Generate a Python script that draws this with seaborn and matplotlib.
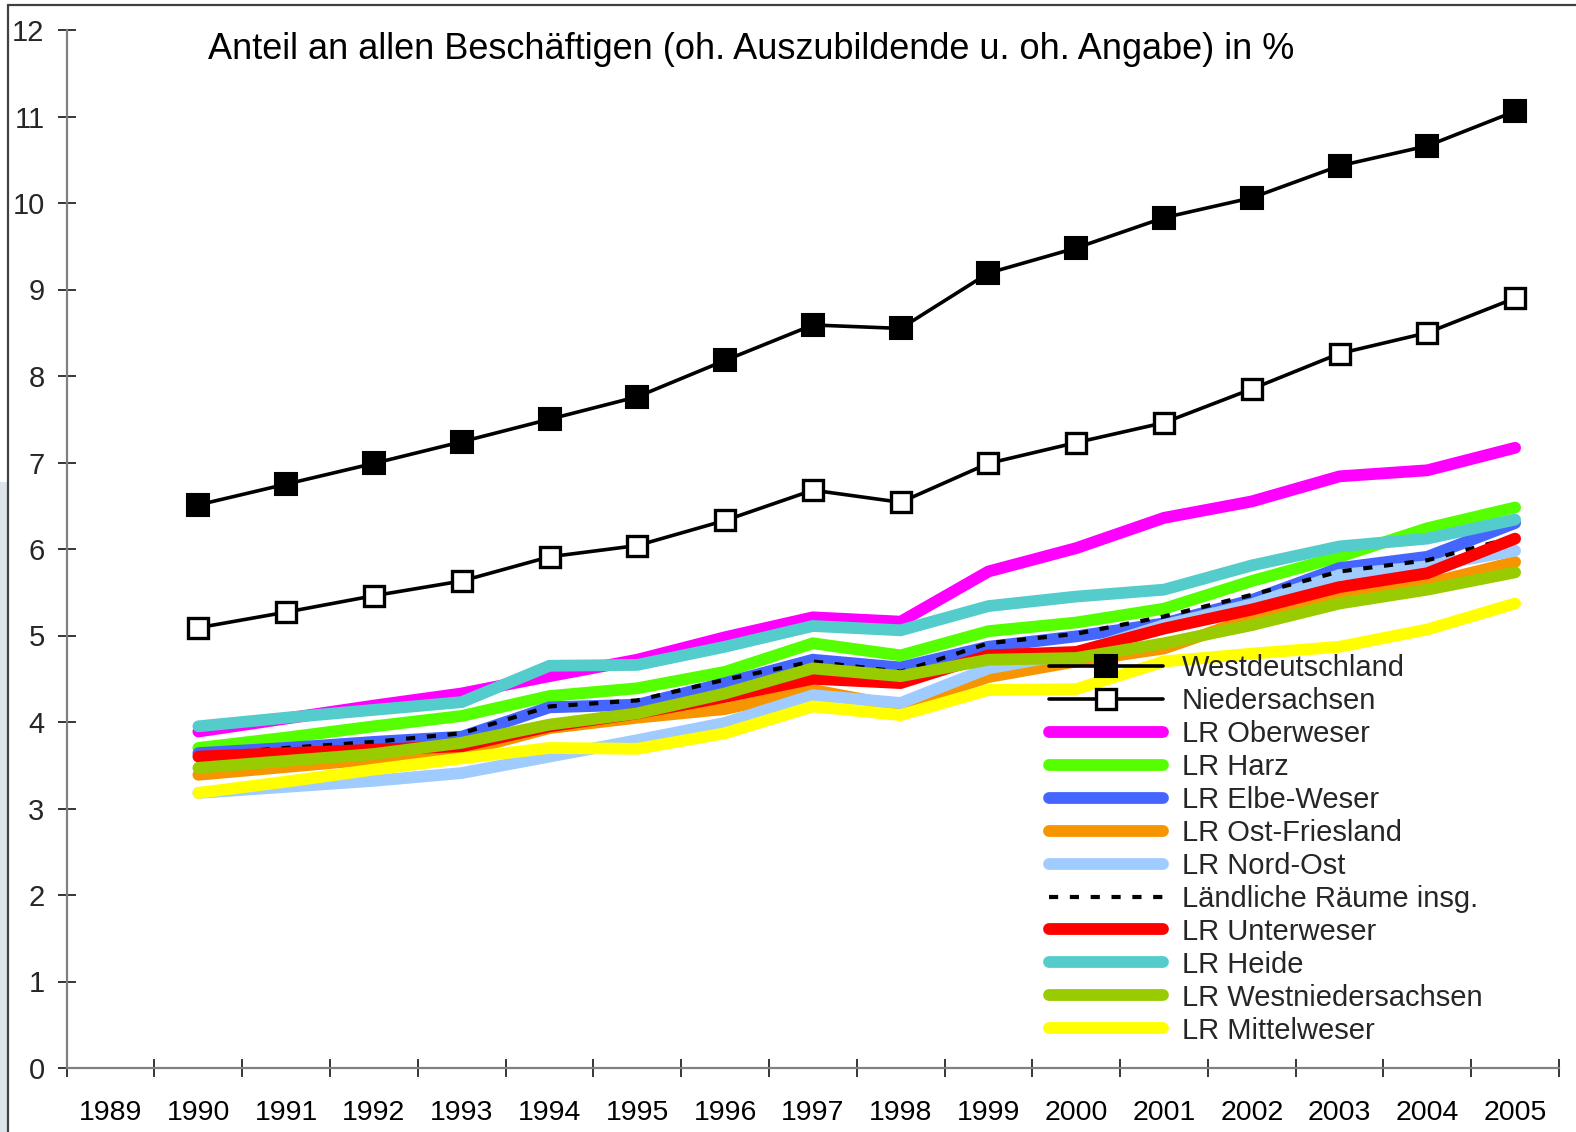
import matplotlib
matplotlib.use("Agg")
import matplotlib.pyplot as plt
import seaborn as sns
import numpy as np
import pandas as pd
from matplotlib.lines import Line2D
from matplotlib.patches import Rectangle

# ---------------- data ----------------
years = [1990, 1991, 1992, 1993, 1994, 1995, 1996, 1997, 1998, 1999,
         2000, 2001, 2002, 2003, 2004, 2005]
axis_years = list(range(1989, 2006))

westdeutschland = [6.51, 6.75, 6.99, 7.24, 7.50, 7.76, 8.18, 8.59, 8.55, 9.19,
                   9.48, 9.83, 10.06, 10.43, 10.66, 11.06]
niedersachsen = [5.09, 5.27, 5.46, 5.63, 5.91, 6.04, 6.33, 6.68, 6.54, 6.99,
                 7.23, 7.46, 7.85, 8.26, 8.50, 8.90]
lr_oberweser = [3.89, 4.04, 4.19, 4.33, 4.53, 4.72, 4.98, 5.21, 5.16, 5.74,
                6.01, 6.36, 6.55, 6.84, 6.91, 7.17]
lr_harz = [3.70, 3.82, 3.95, 4.07, 4.30, 4.39, 4.58, 4.91, 4.77, 5.05,
           5.15, 5.31, 5.63, 5.91, 6.24, 6.48]
lr_elbe_weser = [3.64, 3.70, 3.77, 3.83, 4.17, 4.20, 4.45, 4.72, 4.63, 4.87,
                 4.99, 5.14, 5.41, 5.78, 5.91, 6.30]
lr_ost_friesland = [3.39, 3.48, 3.57, 3.66, 3.93, 4.05, 4.15, 4.37, 4.18, 4.52,
                    4.70, 4.85, 5.20, 5.45, 5.60, 5.85]
lr_nord_ost = [3.18, 3.25, 3.32, 3.41, 3.60, 3.79, 3.99, 4.31, 4.22, 4.62,
               4.80, 5.12, 5.36, 5.70, 5.80, 5.98]
laendliche_raeume = [3.62, 3.70, 3.77, 3.87, 4.18, 4.25, 4.49, 4.70, 4.58, 4.91,
                     5.02, 5.22, 5.47, 5.74, 5.87, 6.14]
lr_unterweser = [3.60, 3.64, 3.68, 3.72, 3.95, 4.10, 4.29, 4.50, 4.45, 4.77,
                 4.81, 5.08, 5.30, 5.56, 5.72, 6.12]
lr_heide = [3.95, 4.05, 4.14, 4.23, 4.65, 4.66, 4.87, 5.11, 5.06, 5.34,
            5.45, 5.53, 5.81, 6.03, 6.12, 6.34]
lr_westniedersachsen = [3.47, 3.55, 3.63, 3.76, 3.97, 4.10, 4.33, 4.62, 4.53, 4.72,
                        4.74, 4.91, 5.12, 5.37, 5.53, 5.73]
lr_mittelweser = [3.18, 3.31, 3.45, 3.58, 3.70, 3.69, 3.87, 4.18, 4.08, 4.37,
                  4.38, 4.70, 4.79, 4.87, 5.07, 5.37]

title_text = "Anteil an allen Beschäftigen (oh. Auszubildende u. oh. Angabe) in %"

series = [
    ("Westdeutschland", westdeutschland),
    ("Niedersachsen", niedersachsen),
    ("LR Oberweser", lr_oberweser),
    ("LR Harz", lr_harz),
    ("LR Elbe-Weser", lr_elbe_weser),
    ("LR Ost-Friesland", lr_ost_friesland),
    ("LR Nord-Ost", lr_nord_ost),
    ("Ländliche Räume insg.", laendliche_raeume),
    ("LR Unterweser", lr_unterweser),
    ("LR Heide", lr_heide),
    ("LR Westniedersachsen", lr_westniedersachsen),
    ("LR Mittelweser", lr_mittelweser),
]

colors = {
    "LR Oberweser": "#FF00FF",
    "LR Harz": "#55FF00",
    "LR Elbe-Weser": "#4466FF",
    "LR Ost-Friesland": "#F79500",
    "LR Nord-Ost": "#A0CBFF",
    "LR Unterweser": "#FF0000",
    "LR Heide": "#55CCCC",
    "LR Westniedersachsen": "#99CC00",
    "LR Mittelweser": "#FFFF00",
}

# ---------------- figure ----------------
sns.set_style("white")
plt.rcParams["font.family"] = ["Liberation Sans", "DejaVu Sans"]

fig = plt.figure(figsize=(15.76, 11.32), dpi=100)
ax = fig.add_axes([66.7 / 1576, 1 - 1068 / 1132, (1559 - 66.7) / 1576, (1068 - 30) / 1132])

for name, vals in series:
    df = pd.DataFrame({"Jahr": years, "Wert": vals})
    if name == "Westdeutschland":
        sns.lineplot(data=df, x="Jahr", y="Wert", ax=ax, color="black", lw=2.6,
                     marker="s", markersize=15.5, markerfacecolor="black",
                     markeredgecolor="black", markeredgewidth=1.5, label=name)
    elif name == "Niedersachsen":
        sns.lineplot(data=df, x="Jahr", y="Wert", ax=ax, color="black", lw=2.6,
                     marker="s", markersize=15, markerfacecolor="white",
                     markeredgecolor="black", markeredgewidth=2.4, label=name)
    elif name == "Ländliche Räume insg.":
        sns.lineplot(data=df, x="Jahr", y="Wert", ax=ax, color="black", lw=3.0,
                     dashes=False, label=name, linestyle=(0, (2.2, 2.8)))
    else:
        sns.lineplot(data=df, x="Jahr", y="Wert", ax=ax, color=colors[name], lw=8.5,
                     solid_capstyle="round", solid_joinstyle="miter", label=name)

ax.set_xlim(1988.5, 2005.5)
ax.set_ylim(0, 12)
ax.set_xlabel("")
ax.set_ylabel("")
ax.set_yticks(range(0, 13))
ax.set_xticks(axis_years)
ax.set_xticklabels([str(y) for y in axis_years])
ax.set_xticks(np.arange(1988.5, 2006.0, 1.0), minor=True)
ax.tick_params(axis="x", which="major", length=0, pad=23, labelsize=20.5, colors="black")
ax.tick_params(axis="x", which="minor", length=13, width=1.1, direction="inout",
               color="black", bottom=True)
ax.tick_params(axis="y", which="major", length=13, width=1.1, direction="inout",
               pad=9.4, labelsize=21, color="black", left=True)
for s in ["top", "right"]:
    ax.spines[s].set_visible(False)
for s in ["left", "bottom"]:
    ax.spines[s].set_color("#808080")
    ax.spines[s].set_linewidth(1.6)
ax.patch.set_alpha(0)

ax.text(0.4586, 0.981, title_text, transform=ax.transAxes, ha="center", va="center",
        fontsize=26, color="black")

handles, labels = ax.get_legend_handles_labels()
leg = ax.legend(handles, labels, loc="upper left",
                bbox_to_anchor=(1049 / 1576, 1 - 654 / 1132), bbox_transform=fig.transFigure,
                frameon=False, fontsize=21, handlelength=3.9, handletextpad=0.65,
                labelspacing=0.17, borderpad=0, borderaxespad=0, numpoints=1)
for h in leg.legend_handles:
    h.set_solid_capstyle("round")

# page frame (left / top border and strip)
fig.patches.append(Rectangle((0, 0), 8 / 1576, 1 - 482 / 1132, transform=fig.transFigure,
                             facecolor="#DDE4EC", edgecolor="none", zorder=0))
fig.lines.append(Line2D([8 / 1576, 8 / 1576], [0, 1 - 5 / 1132], transform=fig.transFigure,
                        color="#404040", lw=1.6))
fig.lines.append(Line2D([8 / 1576, 1], [1 - 5 / 1132, 1 - 5 / 1132], transform=fig.transFigure,
                        color="#404040", lw=1.6))

fig.savefig("out.png", dpi=100)
